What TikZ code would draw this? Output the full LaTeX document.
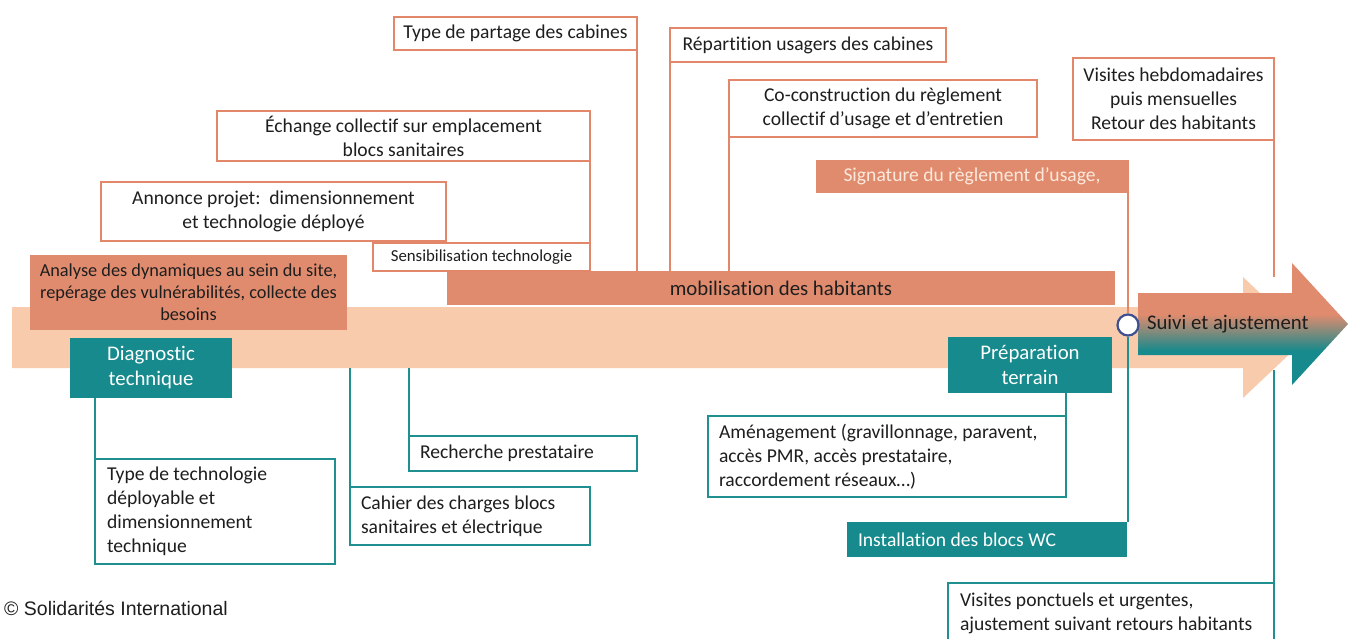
\documentclass[tikz,border=0pt]{standalone}
\usepackage{fontspec}
\setmainfont{Carlito}[Ligatures=CommonOff]
\newfontfamily\copyfont{Liberation Sans}
\definecolor{orangeL}{HTML}{E2876A}
\definecolor{orangeF}{HTML}{E08B6E}
\definecolor{peach}{HTML}{F8CBAD}
\definecolor{tealF}{HTML}{168A8C}
\definecolor{tealL}{HTML}{1F8F8F}
\definecolor{textc}{HTML}{1E1E1E}
\definecolor{sigtext}{HTML}{FDE9DC}
\definecolor{circc}{HTML}{3F4F8F}
\pgfdeclareverticalshading{suivishade}{100bp}{color(0bp)=(tealF); color(39bp)=(tealF); color(54bp)=(orangeF); color(100bp)=(orangeF)}
\tikzset{
  basebox/.style={inner sep=0pt, outer sep=0pt, text=textc, align=center, font=\fontsize{19.6}{24}\selectfont},
  obox/.style={basebox, draw=orangeL, line width=2.5pt, fill=white},
  tbox/.style={basebox, draw=tealL, line width=2.5pt, fill=white},
  ofill/.style={basebox, fill=orangeF},
  tfill/.style={basebox, fill=tealF, text=white},
  oline/.style={draw=orangeL, line width=2.5pt},
  tline/.style={draw=tealL, line width=2.5pt},
}
\begin{document}
\begin{tikzpicture}[x=1pt,y=-1pt]
\useasboundingbox (0,0) rectangle (1348,638);
\clip (0,0) rectangle (1348,638);
% light arrow
\fill[peach] (12,307) -- (1243,307) -- (1243,277) -- (1307,337.5) -- (1243,398) -- (1243,368) -- (12,368) -- cycle;
\coordinate (lightbot) at (12,368);
\coordinate (lighttop) at (12,277);
\coordinate (lightlow) at (12,370);
% dark arrow
\shade[shading=suivishade] (1138,293) -- (1292,293) -- (1292,263) -- (1348,324) -- (1292,385) -- (1292,355) -- (1138,355) -- cycle;
\node[basebox, anchor=west, font=\fontsize{20.8}{24}\selectfont] (suivi) at (1147,324) {Suivi et ajustement};

% orange fills
\node[ofill, minimum width=668pt, minimum height=34pt, font=\fontsize{20.8}{24}\selectfont] (mob) at (781,288) {mobilisation des habitants};
\node[ofill, minimum width=317pt, minimum height=75pt, font=\fontsize{18.3}{22}\selectfont] (analyse) at (188.5,292.5) {Analyse des dynamiques au sein du site,\\repérage des vulnérabilités, collecte des\\besoins};
\node[ofill, text=sigtext, minimum width=313pt, minimum height=33pt] (signature) at (972,176.5) {Signature du règlement d’usage,};

% orange boxes
\node[obox, minimum width=243pt, minimum height=33pt] (typep) at (515.5,33.5) {Type de partage des cabines};
\node[obox, minimum width=276pt, minimum height=34pt] (repart) at (808,45) {Répartition usagers des cabines};
\node[obox, minimum width=373pt, minimum height=50pt] (echange) at (403.5,136) {Échange collectif sur emplacement\\blocs sanitaires};
\node[obox, minimum width=345pt, minimum height=59pt] (annonce) at (273.5,211.5) {Annonce projet:\ \ dimensionnement\\et technologie déployé};
\node[obox, minimum width=217pt, minimum height=28pt, font=\fontsize{16.8}{20}\selectfont] (sensib) at (481.5,257) {Sensibilisation technologie};
\node[obox, minimum width=308pt, minimum height=57pt] (coco) at (883,108.5) {Co-construction du règlement\\collectif d’usage et d’entretien};
\node[obox, minimum width=201pt, minimum height=82pt] (visH) at (1173.5,99) {Visites hebdomadaires\\puis mensuelles\\Retour des habitants};

% teal fills
\node[tfill, minimum width=162pt, minimum height=60pt, font=\fontsize{20.8}{25}\selectfont] (diag) at (151,368) {Diagnostic\\technique};
\node[tfill, minimum width=164pt, minimum height=56pt, font=\fontsize{20.8}{25}\selectfont] (prep) at (1030,365) {Préparation\\terrain};
\node[tfill, minimum width=280pt, minimum height=35pt, text width=258pt, align=flush left] (install) at (987,539.5) {Installation des blocs WC};

% teal boxes
\node[tbox, minimum width=240pt, minimum height=105pt, text width=216pt, align=flush left] (typetech) at (215,511.5) {Type de technologie\\déployable et\\dimensionnement\\technique};
\node[tbox, minimum width=240pt, minimum height=58pt, text width=218pt, align=flush left] (cahier) at (470,516) {Cahier des charges blocs\\sanitaires et électrique};
\node[tbox, minimum width=228pt, minimum height=35pt, text width=206pt, align=flush left] (recherche) at (523,453.5) {Recherche prestataire};
\node[tbox, minimum width=358pt, minimum height=81pt, text width=336pt, align=flush left] (amenag) at (887,456.5) {Aménagement (gravillonnage, paravent,\\accès PMR, accès prestataire,\\raccordement réseaux…)};
\node[tbox, minimum width=326pt, minimum height=60pt, text width=302pt, align=flush left] (visP) at (1111,613) {Visites ponctuels et urgentes,\\ajustement suivant retours habitants};

% circle
\node[circle, draw=circc, fill=white, line width=2.2pt, minimum size=21pt, inner sep=0pt] (circ) at (1128,325) {};

% orange connectors
\draw[oline] (typep.south east) -- (typep.south east |- mob.north);
\draw[oline] (repart.south west) -- (repart.south west |- mob.north);
\draw[oline] (coco.south west) -- (coco.south west |- mob.north);
\draw[oline] (echange.south east) -- (echange.south east |- sensib.north);
\draw[oline] (signature.south east -| circ.north) -- (circ.north);
\draw[oline] (visH.south east) -- (visH.south east |- lighttop);

% teal connectors
\draw[tline] (typetech.north west) -- (typetech.north west |- diag.south);
\draw[tline] (cahier.north west) -- (cahier.north west |- lightbot);
\draw[tline] (recherche.north west) -- (recherche.north west |- lightbot);
\draw[tline] (amenag.north east) -- (amenag.north east |- prep.south);
\draw[tline] (install.north east -| circ.south) -- (circ.south);
\draw[tline] (visP.north east) -- (visP.north east |- lightlow);

\node[anchor=west, inner sep=0pt, font=\copyfont\fontsize{19.5}{22}\selectfont, text=textc] (copy) at (4,608) {© Solidarités International};
\end{tikzpicture}
\end{document}
